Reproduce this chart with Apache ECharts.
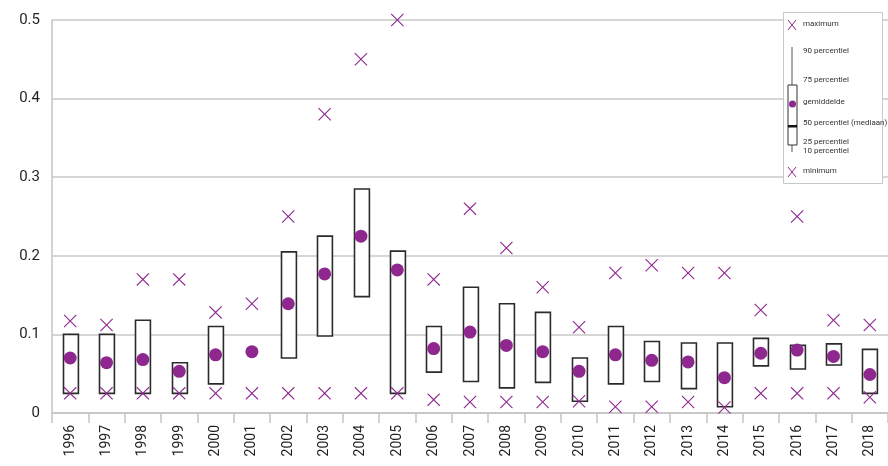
<!DOCTYPE html>
<html>
<head>
<meta charset="utf-8">
<script src="https://cdn.jsdelivr.net/npm/echarts@6/dist/echarts.min.js"></script>
<style>
    html, body { margin: 0; padding: 0; background: #fff; }
    #chart { width: 888px; height: 466px; }
</style>
</head>
<body>
<div id="chart"></div>
<script>
// jaren
var years = ['1996', '1997', '1998', '1999', '2000', '2001', '2002', '2003', '2004', '2005', '2006',
    '2007', '2008', '2009', '2010', '2011', '2012', '2013', '2014', '2015', '2016', '2017', '2018'];

// 75 en 25 percentiel (box)
var p75 = [0.100, 0.100, 0.118, 0.064, 0.110, null, 0.205, 0.225, 0.285, 0.206, 0.110, 0.160,
    0.139, 0.128, 0.070, 0.110, 0.091, 0.089, 0.089, 0.095, 0.086, 0.088, 0.081];
var p25 = [0.025, 0.025, 0.025, 0.025, 0.037, null, 0.070, 0.098, 0.148, 0.025, 0.052, 0.040,
    0.032, 0.039, 0.015, 0.037, 0.040, 0.031, 0.008, 0.060, 0.056, 0.061, 0.025];

// gemiddelde
var gemiddelde = [0.070, 0.064, 0.068, 0.053, 0.074, 0.078, 0.139, 0.177, 0.225, 0.182, 0.082, 0.103,
    0.086, 0.078, 0.053, 0.074, 0.067, 0.065, 0.045, 0.076, 0.080, 0.072, 0.049];

// maximum / minimum
var maximum = [0.117, 0.112, 0.170, 0.170, 0.128, 0.139, 0.250, 0.380, 0.450, 0.500, 0.170, 0.260,
    0.210, 0.160, 0.109, 0.178, 0.188, 0.178, 0.178, 0.131, 0.250, 0.118, 0.112];
var minimum = [0.025, 0.025, 0.025, 0.025, 0.025, 0.025, 0.025, 0.025, 0.025, 0.025, 0.017, 0.014,
    0.014, 0.014, 0.015, 0.008, 0.008, 0.014, 0.007, 0.025, 0.025, 0.025, 0.020];

var PURPLE = '#8e288f';
var FONT = "'Liberation Sans Narrow', 'Roboto', sans-serif";
var KRUIS = 'path://M0,6 L6,0 L50,44 L94,0 L100,6 L56,50 L100,94 L94,100 L50,56 L6,100 L0,94 L44,50 Z';

var boxData = [];
for (var i = 0; i < years.length; i++) {
    if (p75[i] !== null) {
        boxData.push([i, p25[i], p75[i]]);
    }
}

var chart = echarts.init(document.getElementById('chart'));

// legenda rechtsboven
function legendGraphic() {
    var lx = 792;
    var txt = function (y, s) {
        return { type: 'text', left: 803, top: y - 5, z: 101,
            style: { text: s, fontSize: 8, fontFamily: FONT, fill: '#333' } };
    };
    var kruis = function (y) {
        return [
            { type: 'line', z: 101, shape: { x1: lx - 4, y1: y - 5, x2: lx + 4, y2: y + 5 },
                style: { stroke: PURPLE, lineWidth: 1 } },
            { type: 'line', z: 101, shape: { x1: lx + 4, y1: y - 5, x2: lx - 4, y2: y + 5 },
                style: { stroke: PURPLE, lineWidth: 1 } }
        ];
    };
    return [
        { type: 'rect', z: 100, shape: { x: 783.5, y: 12.5, width: 99, height: 171 },
            style: { fill: '#fff', stroke: '#c8c8c8', lineWidth: 1 } },
        txt(25, 'maximum'),
        { type: 'line', z: 101, shape: { x1: lx, y1: 47, x2: lx, y2: 152 }, style: { stroke: '#555', lineWidth: 1 } },
        { type: 'rect', z: 102, shape: { x: 788, y: 85, width: 9, height: 60 },
            style: { fill: '#fff', stroke: '#333', lineWidth: 1 } },
        { type: 'circle', z: 103, shape: { cx: lx + 0.5, cy: 104, r: 3.5 }, style: { fill: PURPLE } },
        { type: 'rect', z: 103, shape: { x: 788, y: 125, width: 9, height: 2.5 }, style: { fill: '#111' } },
        txt(52, '90 percentiel'),
        txt(81, '75 percentiel'),
        txt(103, 'gemiddelde'),
        txt(124, '50 percentiel (mediaan)'),
        txt(143, '25 percentiel'),
        txt(152, '10 percentiel'),
        txt(172, 'minimum')
    ].concat(kruis(25), kruis(172));
}

var option = {
    animation: false,
    backgroundColor: '#fff',
    grid: { left: 52, right: 0, top: 20, bottom: 53, containLabel: false },
    xAxis: {
        type: 'category',
        data: years,
        boundaryGap: true,
        axisLine: { lineStyle: { color: '#c3c3c3', width: 1.5 } },
        axisTick: { show: true, length: 10, lineStyle: { color: '#c3c3c3', width: 1.5 } },
        axisLabel: { rotate: 90, margin: 12, fontSize: 14, color: '#231f20', fontFamily: FONT }
    },
    yAxis: {
        type: 'value',
        min: 0,
        max: 0.5,
        interval: 0.1,
        axisLine: { show: true, lineStyle: { color: '#c3c3c3', width: 1.5 } },
        axisTick: { show: false },
        splitLine: { lineStyle: { color: '#c8c8c8', width: 1.5 } },
        axisLabel: {
            margin: 12, fontSize: 15, color: '#231f20', fontFamily: FONT,
            formatter: function (v) {
                return Math.abs(v) < 1e-9 ? '0' : v.toFixed(1);
            }
        }
    },
    series: [
        {
            name: 'box',
            type: 'custom',
            z: 2,
            data: boxData,
            renderItem: function (params, api) {
                var lo = api.coord([api.value(0), api.value(1)]);
                var hi = api.coord([api.value(0), api.value(2)]);
                var w = api.size([1, 0])[0] * 0.41;
                return {
                    type: 'rect',
                    shape: { x: Math.round(lo[0] - w / 2) + 0.5, y: hi[1], width: w, height: lo[1] - hi[1] },
                    style: { fill: '#fff', stroke: '#2b2b2b', lineWidth: 1.6 }
                };
            }
        },
        {
            name: 'maximum',
            type: 'scatter',
            z: 3,
            clip: false,
            symbol: KRUIS,
            symbolSize: 13,
            itemStyle: { color: PURPLE, opacity: 1 },
            data: maximum
        },
        {
            name: 'minimum',
            type: 'scatter',
            z: 3,
            symbol: KRUIS,
            symbolSize: 13,
            itemStyle: { color: PURPLE, opacity: 1 },
            data: minimum
        },
        {
            name: 'gemiddelde',
            type: 'scatter',
            z: 4,
            symbol: 'circle',
            symbolSize: 13,
            itemStyle: { color: PURPLE, opacity: 1 },
            data: gemiddelde
        }
    ],
    graphic: legendGraphic()
};

chart.setOption(option);
</script>
</body>
</html>
